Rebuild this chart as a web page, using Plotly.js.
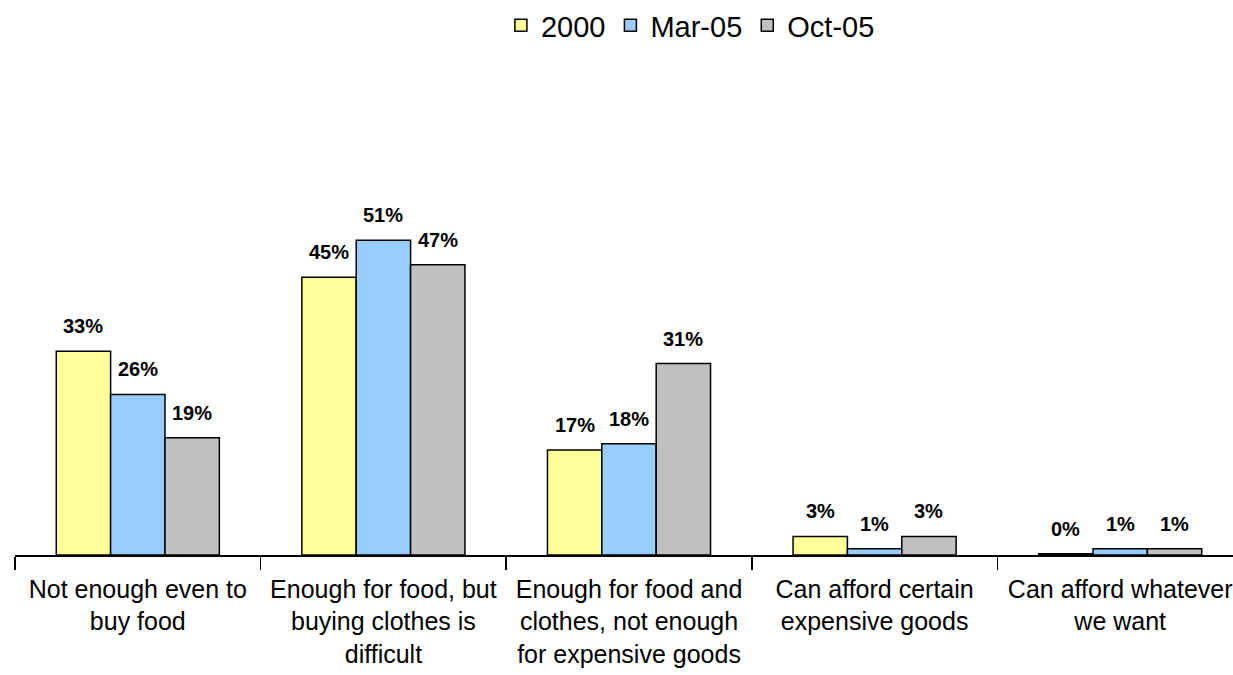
<!DOCTYPE html>
<html>
<head>
<meta charset="utf-8">
<script src="https://cdn.plot.ly/plotly-3.0.1.min.js"></script>
<style>
html, body { margin: 0; padding: 0; background: #fff; overflow: hidden; }
#chart { width: 1243px; height: 675px; }
</style>
</head>
<body>
<div id="chart"></div>
<script>
// Data
const categories = [
  "Not enough even to<br>buy food",
  "Enough for food, but<br>buying clothes is<br>difficult",
  "Enough for food and<br>clothes, not enough<br>for expensive goods",
  "Can afford certain<br>expensive goods",
  "Can afford whatever<br>we want"
];
const seriesNames = ["2000", "Mar-05", "Oct-05"];
const values2000 = [33, 45, 17, 3, 0.2];
const valuesMar05 = [26, 51, 18, 1, 1];
const valuesOct05 = [19, 47, 31, 3, 1];
const labels2000 = ["33%", "45%", "17%", "3%", "0%"];
const labelsMar05 = ["26%", "51%", "18%", "1%", "1%"];
const labelsOct05 = ["19%", "47%", "31%", "3%", "1%"];
const colors = ["#FFFF99", "#99CCFF", "#C0C0C0"];

const allValues = [values2000, valuesMar05, valuesOct05];
const allLabels = [labels2000, labelsMar05, labelsOct05];

const W = 1243, H = 675;
const margin = {l: 15, r: 0, t: 100, b: 120};
const bargap = 0.336;
const plotW = W - margin.l - margin.r;
const catW = plotW / categories.length;
const barW = catW * (1 - bargap) / seriesNames.length;

const traces = seriesNames.map((name, j) => ({
  type: "bar",
  name: name,
  x: categories,
  y: allValues[j],
  marker: {color: colors[j], line: {color: "#000", width: 1.5}},
  hoverinfo: "skip"
}));

const annotations = [];
allValues.forEach((vals, j) => {
  vals.forEach((v, i) => {
    annotations.push({
      x: categories[i], y: v, xref: "x", yref: "y",
      text: "<b>" + allLabels[j][i] + "</b>", showarrow: false,
      xshift: (j - 1) * barW, yshift: 25,
      yanchor: "middle",
      font: {family: "Liberation Sans, Arial, sans-serif", size: 20, color: "#000"}
    });
  });
});

const layout = {
  width: W, height: H,
  margin: margin,
  paper_bgcolor: "#fff", plot_bgcolor: "#fff",
  font: {family: "Liberation Sans, Arial, sans-serif", color: "#000"},
  barmode: "group",
  bargap: bargap,
  bargroupgap: 0,
  showlegend: true,
  legend: {
    orientation: "h",
    x: 0.55, xanchor: "center",
    yref: "container", y: 1, yanchor: "top",
    font: {size: 29, color: "#000"},
    traceorder: "normal",
    itemclick: false
  },
  xaxis: {
    type: "category",
    showline: true, linecolor: "#000", linewidth: 1.5,
    ticks: "outside", tickson: "boundaries", ticklen: 13, tickcolor: "#000", tickwidth: 1.5,
    ticklabelstandoff: 11,
    tickfont: {size: 25, color: "#000"},
    showgrid: false, zeroline: false,
    fixedrange: true
  },
  yaxis: {
    range: [0, 73.7],
    visible: false,
    showgrid: false, zeroline: false,
    fixedrange: true
  },
  annotations: annotations
};

Plotly.newPlot("chart", traces, layout, {displayModeBar: false, staticPlot: true});
</script>
</body>
</html>
